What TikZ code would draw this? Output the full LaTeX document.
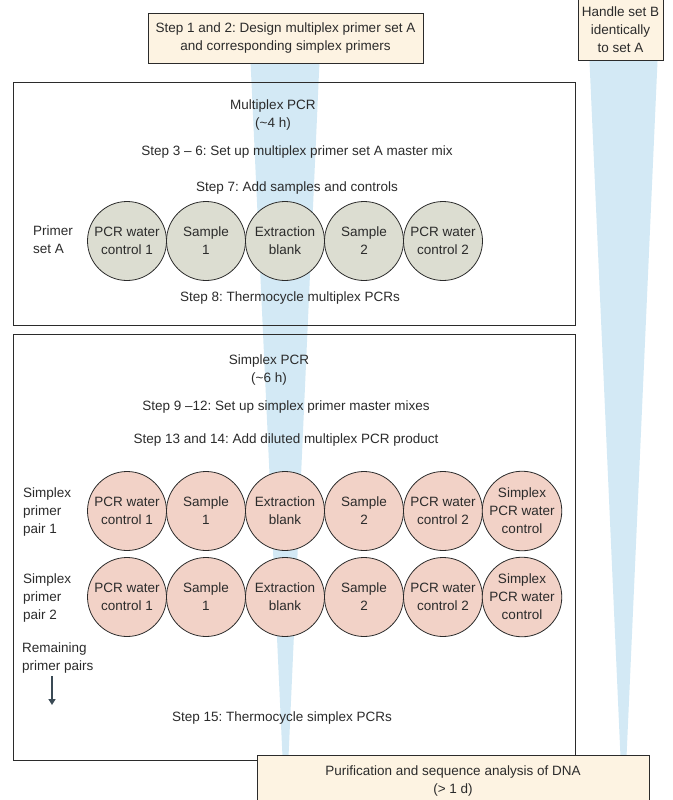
\documentclass[tikz,border=0pt]{standalone}
\usepackage{fontspec}
\setmainfont{Liberation Sans}
\frenchspacing
\usetikzlibrary{calc,arrows.meta}
\definecolor{cream}{HTML}{FDF3E2}
\definecolor{funnel}{HTML}{D3E9F5}
\definecolor{grayc}{HTML}{DCDDD1}
\definecolor{pinkc}{HTML}{F2D2C7}
\definecolor{edge}{HTML}{2B2B2B}
\definecolor{arr}{HTML}{3A4A55}
\tikzset{
  txt/.style={font=\fontsize{13.5}{18}\selectfont, align=center, inner sep=0, text=edge},
  ltxt/.style={txt, align=left, anchor=west},
  creambox/.style={draw=edge, line width=0.9pt, fill=cream, inner sep=0},
  bigbox/.style={draw=edge, line width=0.9pt, inner sep=0},
  well/.style={circle, draw=edge, line width=0.8pt, minimum size=79pt, inner sep=0, txt},
  gwell/.style={well, fill=grayc},
  pwell/.style={well, fill=pinkc},
}
\begin{document}
\begin{tikzpicture}[x=1pt,y=-1pt]
\useasboundingbox (0,0) rectangle (672,800);
% anchor nodes for boxes (positions)
\coordinate (s12c) at (285.5,38);
\coordinate (hbc) at (620.5,29);
\coordinate (purc) at (453,785);
% funnels
\fill[funnel] (250,50) -- (320,50) -- (288.5,757) -- (282.5,757) -- cycle;
\fill[funnel] (589,50) -- (658,50) -- (626.5,757) -- (620.5,757) -- cycle;
% big boxes
\node[bigbox, minimum width=562pt, minimum height=243pt] (box1) at (294,203.5) {};
\node[bigbox, minimum width=562pt, minimum height=426pt] (box2) at (294,547) {};
% top boxes
\node[creambox, minimum width=275pt, minimum height=50pt] (s12) at (s12c) {};
\node[txt] (s12t) at (s12c) {Step 1 and 2: Design multiplex primer set A\\and corresponding simplex primers};
\node[creambox, minimum width=85pt, minimum height=62pt] (hb) at (hbc) {};
\node[txt] (hbt) at (620.5,30) {Handle set B\\identically\\to set A};
\node[creambox, minimum width=392pt, minimum height=60pt] (pur) at (purc) {};
\node[txt] (purt) at (453,781) {Purification and sequence analysis of DNA\\(> 1 d)};
% box 1 text
\node[txt] (mp) at (273,115) {Multiplex PCR\\(\textasciitilde4 h)};
\node[txt] (st36) at (297,152) {Step 3 – 6: Set up multiplex primer set A master mix};
\node[txt] (st7) at (297,188) {Step 7: Add samples and controls};
\node[ltxt] (psa) at (33,240) {Primer\\set A};
\node[txt] (st8) at (290,298) {Step 8: Thermocycle multiplex PCRs};
% row 1 wells
\node[gwell] (a1) at (127,241) {PCR water\\control 1};
\node[gwell] (a2) at (206,241) {Sample\\1};
\node[gwell] (a3) at (285,241) {Extraction\\blank};
\node[gwell] (a4) at (364,241) {Sample\\2};
\node[gwell] (a5) at (443,241) {PCR water\\control 2};
% box 2 text
\node[txt] (sp) at (269,370) {Simplex PCR\\(\textasciitilde6 h)};
\node[txt] (st912) at (286,407) {Step 9 –12: Set up simplex primer master mixes};
\node[txt] (st1314) at (286,440) {Step 13 and 14: Add diluted multiplex PCR product};
\node[ltxt] (pp1) at (23,512) {Simplex\\primer\\pair 1};
\node[ltxt] (pp2) at (23,598) {Simplex\\primer\\pair 2};
\node[ltxt] (rpp) at (22,658) {Remaining\\primer pairs};
\node[txt] (st15) at (282,718) {Step 15: Thermocycle simplex PCRs};
\coordinate (arrS) at (52,676);
\coordinate (arrE) at (52,705);
\draw[arr, line width=2pt, -{Triangle[length=6pt,width=7pt]}] (arrS) -- (arrE);
% rows 2 and 3 wells
\foreach \r/\y in {b/511,c/597}{
  \node[pwell] (\r1) at (127,\y) {PCR water\\control 1};
  \node[pwell] (\r2) at (206,\y) {Sample\\1};
  \node[pwell] (\r3) at (285,\y) {Extraction\\blank};
  \node[pwell] (\r4) at (364,\y) {Sample\\2};
  \node[pwell] (\r5) at (443,\y) {PCR water\\control 2};
  \node[pwell] (\r6) at (522,\y) {Simplex\\PCR water\\control};
}
\end{tikzpicture}
\end{document}
